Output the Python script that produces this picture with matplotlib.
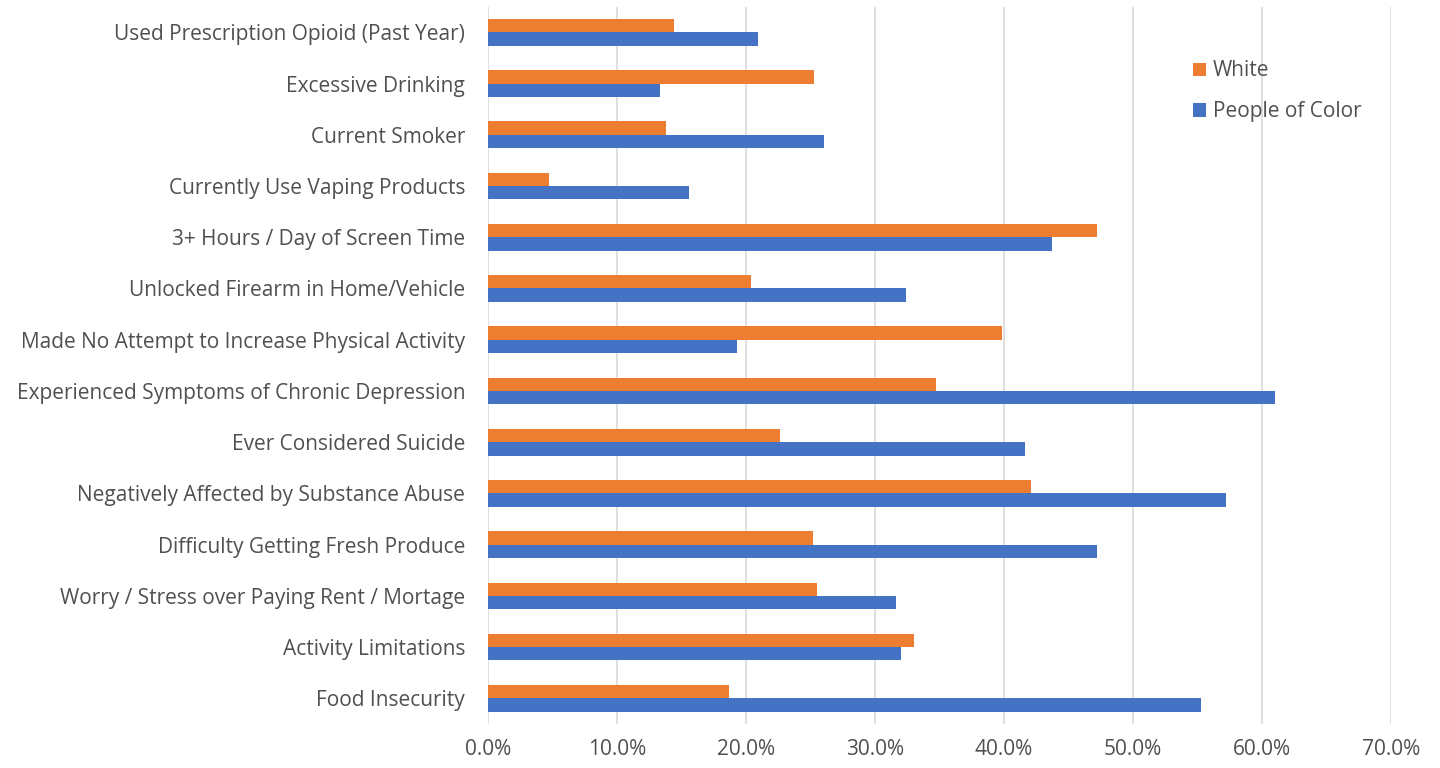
import numpy as np
import matplotlib.pyplot as plt
from matplotlib.ticker import FuncFormatter

categories = [
    "Used Prescription Opioid (Past Year)",
    "Excessive Drinking",
    "Current Smoker",
    "Currently Use Vaping Products",
    "3+ Hours / Day of Screen Time",
    "Unlocked Firearm in Home/Vehicle",
    "Made No Attempt to Increase Physical Activity",
    "Experienced Symptoms of Chronic Depression",
    "Ever Considered Suicide",
    "Negatively Affected by Substance Abuse",
    "Difficulty Getting Fresh Produce",
    "Worry / Stress over Paying Rent / Mortage",
    "Activity Limitations",
    "Food Insecurity",
]
white = [14.4, 25.3, 13.8, 4.7, 47.2, 20.4, 39.8, 34.7, 22.6, 42.1, 25.2, 25.5, 33.0, 18.7]
people_of_color = [20.9, 13.3, 26.0, 15.6, 43.7, 32.4, 19.3, 61.0, 41.6, 57.2, 47.2, 31.6, 32.0, 55.3]

ORANGE = "#ED7D31"
BLUE = "#4472C4"
TEXT = "#505050"

plt.rcParams['font.family'] = ['Open Sans', 'DejaVu Sans']

fig = plt.figure(figsize=(14.4, 7.68), dpi=100)
ax = fig.add_axes([0.339, 0.0573, 0.627, 0.934])

y = np.arange(len(categories))
h = 0.26
ax.barh(y - h / 2, np.array(white) / 100, height=h, color=ORANGE, label="White", zorder=3)
ax.barh(y + h / 2, np.array(people_of_color) / 100, height=h, color=BLUE, label="People of Color", zorder=3)

ax.set_ylim(len(categories) - 0.5, -0.5)
ax.set_xlim(0, 0.7)
ax.set_xticks(np.arange(0, 0.71, 0.1))
ax.xaxis.set_major_formatter(FuncFormatter(lambda v, p: f"{v * 100:.1f}%"))
ax.set_yticks(y)
ax.set_yticklabels(categories)

ax.grid(axis='x', color="#D9D9D9", linewidth=1.2, zorder=0)
for s in ax.spines.values():
    s.set_visible(False)
ax.tick_params(axis='both', length=0, labelsize=15, labelcolor=TEXT)
ax.tick_params(axis='x', pad=11)
ax.tick_params(axis='y', pad=16.5)

leg = ax.legend(loc='upper left', bbox_to_anchor=(0.781, 0.925), frameon=False,
                fontsize=15, labelcolor=TEXT, handlelength=0.6, handleheight=0.6,
                handletextpad=0.35, labelspacing=0.95, borderpad=0, borderaxespad=0)

fig.savefig("out.png", dpi=100)
